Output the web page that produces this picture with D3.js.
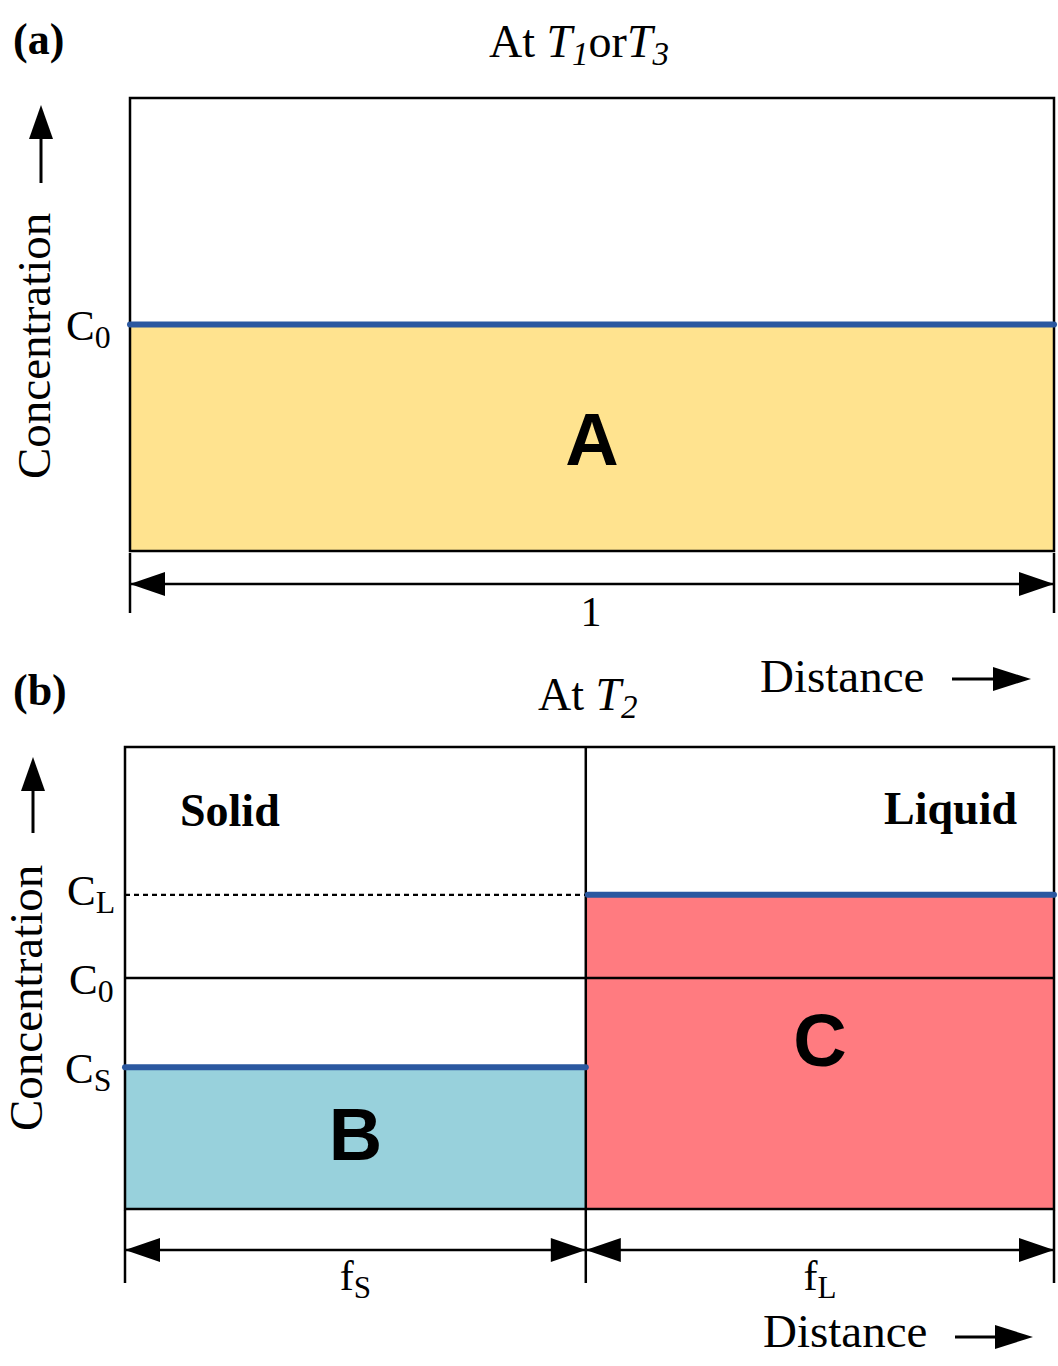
<!DOCTYPE html>
<html><head><meta charset="utf-8">
<script src="https://cdn.jsdelivr.net/npm/d3@7"></script>
<style>body{margin:0;background:#fff}svg{display:block}</style>
</head><body>
<svg id="c" width="1058" height="1366"></svg>
<script>
// ---- data ----
const panelLabels = ["(a)", "(b)"];
const compA = { C0: 0.5 };                 // panel (a) uniform composition
const compB = { CS: 0.307, C0: 0.5, CL: 0.68 }; // panel (b) compositions
const fractionS = 0.496;                   // f_S (solid fraction)
const regionNames = ["A", "B", "C"];
const phaseNames = ["Solid", "Liquid"];
const colors = { A: "#FFE38F", B: "#98D1DC", C: "#FF7B80", line: "#2B58A0" };

const svg = d3.select("#c");
const serif = "Liberation Serif, Times New Roman, serif";
const sans = "Liberation Sans, Arial, sans-serif";

function arrowHead(g, x, y, dir) { // dir: 1 right, -1 left, tip at x
  const L = 35, H = 12;
  g.append("path").attr("d", `M${x},${y}L${x - dir*L},${y-H}L${x - dir*L},${y+H}Z`).attr("fill","#000");
}
function upArrow(g, x, y0, y1) {
  g.append("line").attr("x1",x).attr("x2",x).attr("y1",y0).attr("y2",y1+20).attr("stroke","#000").attr("stroke-width",3);
  g.append("path").attr("d",`M${x},${y1}L${x-12},${y1+34}L${x+12},${y1+34}Z`);
}
function rightArrow(g, x0, x1, y) {
  g.append("line").attr("x1",x0).attr("x2",x1-20).attr("y1",y).attr("y2",y).attr("stroke","#000").attr("stroke-width",3);
  g.append("path").attr("d",`M${x1},${y}L${x1-38},${y-12}L${x1-38},${y+12}Z`);
}
function subText(g, x, y, main, sub, size, anchor, italicMain) {
  const t = g.append("text").attr("x",x).attr("y",y).attr("font-family",serif)
    .attr("font-size",size).attr("text-anchor",anchor||"start");
  t.append("tspan").text(main).attr("font-style", italicMain ? "italic" : null);
  t.append("tspan").text(sub).attr("font-size",size*0.74).attr("dy",size*0.18);
  return t;
}

// ---------- Panel (a) ----------
{
  const g = svg.append("g");
  const x = d3.scaleLinear().domain([0,1]).range([130,1054]);
  const y = d3.scaleLinear().domain([0,1]).range([551,98]);
  g.append("rect").attr("x",x(0)).attr("y",y(compA.C0)).attr("width",x(1)-x(0))
    .attr("height",y(0)-y(compA.C0)).attr("fill",colors.A);
  g.append("rect").attr("x",x(0)).attr("y",y(1)).attr("width",x(1)-x(0)).attr("height",y(0)-y(1))
    .attr("fill","none").attr("stroke","#000").attr("stroke-width",2.5);
  g.append("line").attr("x1",x(0)).attr("x2",x(1)).attr("y1",y(compA.C0)).attr("y2",y(compA.C0))
    .attr("stroke",colors.line).attr("stroke-width",6).attr("stroke-linecap","round");
  g.append("text").attr("x",(x(0)+x(1))/2).attr("y",(y(compA.C0)+y(0))/2+27).attr("text-anchor","middle")
    .attr("font-family",sans).attr("font-weight","bold").attr("font-size",74).text(regionNames[0]);
  // dimension
  const dy = 584;
  [x(0), x(1)].forEach(v => g.append("line").attr("x1",v).attr("x2",v).attr("y1",553).attr("y2",613).attr("stroke","#000").attr("stroke-width",2.5));
  g.append("line").attr("x1",x(0)).attr("x2",x(1)).attr("y1",dy).attr("y2",dy).attr("stroke","#000").attr("stroke-width",2.5);
  arrowHead(g, x(0), dy, -1); arrowHead(g, x(1), dy, 1);
  g.append("text").attr("x",591).attr("y",626).attr("text-anchor","middle").attr("font-family",serif).attr("font-size",42).text("1");
  // labels
  g.append("text").attr("x",13).attr("y",54).attr("font-family",serif).attr("font-weight","bold").attr("font-size",44).text(panelLabels[0]);
  const t = g.append("text").attr("x",489).attr("y",57).attr("font-family",serif).attr("font-size",46);
  t.append("tspan").text("At ");
  t.append("tspan").text("T").attr("font-style","italic");
  t.append("tspan").text("1").attr("font-style","italic").attr("font-size",33).attr("dy",8);
  t.append("tspan").text("or").attr("dy",-8);
  t.append("tspan").text("T").attr("font-style","italic");
  t.append("tspan").text("3").attr("font-style","italic").attr("font-size",33).attr("dy",8);
  g.append("text").attr("transform","translate(50,479) rotate(-90)").attr("font-family",serif).attr("font-size",47).text("Concentration");
  upArrow(g, 41, 183, 105);
  subText(g, 66, 340, "C", "0", 43);
  g.append("text").attr("x",760).attr("y",692).attr("font-family",serif).attr("font-size",47).text("Distance");
  rightArrow(g, 952, 1031, 679);
}

// ---------- Panel (b) ----------
{
  const g = svg.append("g");
  const x = d3.scaleLinear().domain([0,1]).range([125,1054]);
  const y = d3.scaleLinear().domain([0,1]).range([1209,747]);
  const xs = x(fractionS);
  g.append("rect").attr("x",x(0)).attr("y",y(compB.CS)).attr("width",xs-x(0)).attr("height",y(0)-y(compB.CS)).attr("fill",colors.B);
  g.append("rect").attr("x",xs).attr("y",y(compB.CL)).attr("width",x(1)-xs).attr("height",y(0)-y(compB.CL)).attr("fill",colors.C);
  g.append("rect").attr("x",x(0)).attr("y",y(1)).attr("width",x(1)-x(0)).attr("height",y(0)-y(1))
    .attr("fill","none").attr("stroke","#000").attr("stroke-width",2.5);
  g.append("line").attr("x1",xs).attr("x2",xs).attr("y1",y(1)).attr("y2",y(0)).attr("stroke","#000").attr("stroke-width",2.5);
  g.append("line").attr("x1",x(0)).attr("x2",x(1)).attr("y1",y(compB.C0)).attr("y2",y(compB.C0)).attr("stroke","#000").attr("stroke-width",2.5);
  g.append("line").attr("x1",x(0)).attr("x2",xs).attr("y1",y(compB.CL)).attr("y2",y(compB.CL)).attr("stroke","#000").attr("stroke-width",2.2).attr("stroke-dasharray","5,4");
  g.append("line").attr("x1",xs+2).attr("x2",x(1)).attr("y1",y(compB.CL)).attr("y2",y(compB.CL)).attr("stroke",colors.line).attr("stroke-width",6).attr("stroke-linecap","round");
  g.append("line").attr("x1",x(0)).attr("x2",xs).attr("y1",y(compB.CS)).attr("y2",y(compB.CS)).attr("stroke",colors.line).attr("stroke-width",6).attr("stroke-linecap","round");
  g.append("text").attr("x",(x(0)+xs)/2).attr("y",(y(compB.CS)+y(0))/2+22).attr("text-anchor","middle")
    .attr("font-family",sans).attr("font-weight","bold").attr("font-size",74).text(regionNames[1]);
  g.append("text").attr("x",(xs+x(1))/2).attr("y",1066).attr("text-anchor","middle")
    .attr("font-family",sans).attr("font-weight","bold").attr("font-size",74).text(regionNames[2]);
  g.append("text").attr("x",180).attr("y",826).attr("font-family",serif).attr("font-weight","bold").attr("font-size",46).text(phaseNames[0]);
  g.append("text").attr("x",1017).attr("y",824).attr("text-anchor","end").attr("font-family",serif).attr("font-weight","bold").attr("font-size",46).text(phaseNames[1]);
  // dimension
  const dy = 1250;
  [x(0), xs, x(1)].forEach(v => g.append("line").attr("x1",v).attr("x2",v).attr("y1",1210).attr("y2",1283).attr("stroke","#000").attr("stroke-width",2.5));
  g.append("line").attr("x1",x(0)).attr("x2",x(1)).attr("y1",dy).attr("y2",dy).attr("stroke","#000").attr("stroke-width",2.5);
  arrowHead(g, x(0), dy, -1); arrowHead(g, xs, dy, 1); arrowHead(g, xs, dy, -1); arrowHead(g, x(1), dy, 1);
  subText(g, (x(0)+xs)/2, 1290, "f", "S", 42, "middle");
  subText(g, (xs+x(1))/2, 1290, "f", "L", 42, "middle");
  // labels
  g.append("text").attr("x",13).attr("y",705).attr("font-family",serif).attr("font-weight","bold").attr("font-size",44).text(panelLabels[1]);
  const t = g.append("text").attr("x",538).attr("y",710).attr("font-family",serif).attr("font-size",46);
  t.append("tspan").text("At ");
  t.append("tspan").text("T").attr("font-style","italic");
  t.append("tspan").text("2").attr("font-style","italic").attr("font-size",33).attr("dy",8);
  g.append("text").attr("transform","translate(42,1131) rotate(-90)").attr("font-family",serif).attr("font-size",47).text("Concentration");
  upArrow(g, 33, 833, 757);
  subText(g, 67, 905, "C", "L", 43);
  subText(g, 69, 994, "C", "0", 43);
  subText(g, 65, 1083, "C", "S", 43);
  g.append("text").attr("x",763).attr("y",1347).attr("font-family",serif).attr("font-size",47).text("Distance");
  rightArrow(g, 955, 1033, 1337);
}
</script>
</body></html>
